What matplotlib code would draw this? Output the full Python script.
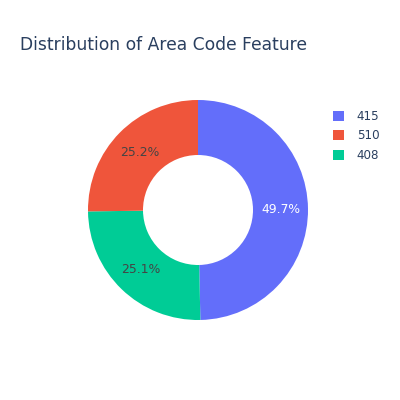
import matplotlib.pyplot as plt
from matplotlib.patches import Patch

# area code counts
labels = ['415', '510', '408']
counts = [1655, 840, 838]
colors = ['#636efa', '#EF553B', '#00cc96']
text_colors = ['white', '#444444', '#444444']

plt.rcParams['font.family'] = ['DejaVu Sans']

fig = plt.figure(figsize=(4, 4), dpi=100)
fig.patch.set_facecolor('white')

# pie area: center (198,210) px, radius 110 px
ax = fig.add_axes([88 / 400, 80 / 400, 220 / 400, 220 / 400])

# drawing order so 415 sits on the right, 408 bottom-left, 510 top-left
order = [0, 2, 1]
wedges, texts, autotexts = ax.pie(
    [counts[i] for i in order],
    colors=[colors[i] for i in order],
    startangle=90,
    counterclock=False,
    radius=1.0,
    autopct='%1.1f%%',
    pctdistance=0.75,
    wedgeprops=dict(width=0.5, edgecolor='white', linewidth=0),
    textprops=dict(fontsize=8.9),
)
for t, i in zip(autotexts, order):
    t.set_color(text_colors[i])
ax.set_xlim(-1, 1)
ax.set_ylim(-1, 1)
ax.set_aspect('equal')

fig.text(20 / 400, 1 - 45 / 400, 'Distribution of Area Code Feature',
         fontsize=12.35, color='#2a3f5f', va='center', ha='left')

handles = [Patch(facecolor=c, edgecolor='none') for c in colors]
fig.legend(handles, labels, loc='upper left', bbox_to_anchor=(322 / 400, 1 - 99 / 400),
           frameon=False, fontsize=8.6, labelcolor='#2a3f5f',
           handlelength=0.9, handleheight=0.9, handletextpad=1.1, labelspacing=0.55)

plt.savefig('out.png', dpi=100)
